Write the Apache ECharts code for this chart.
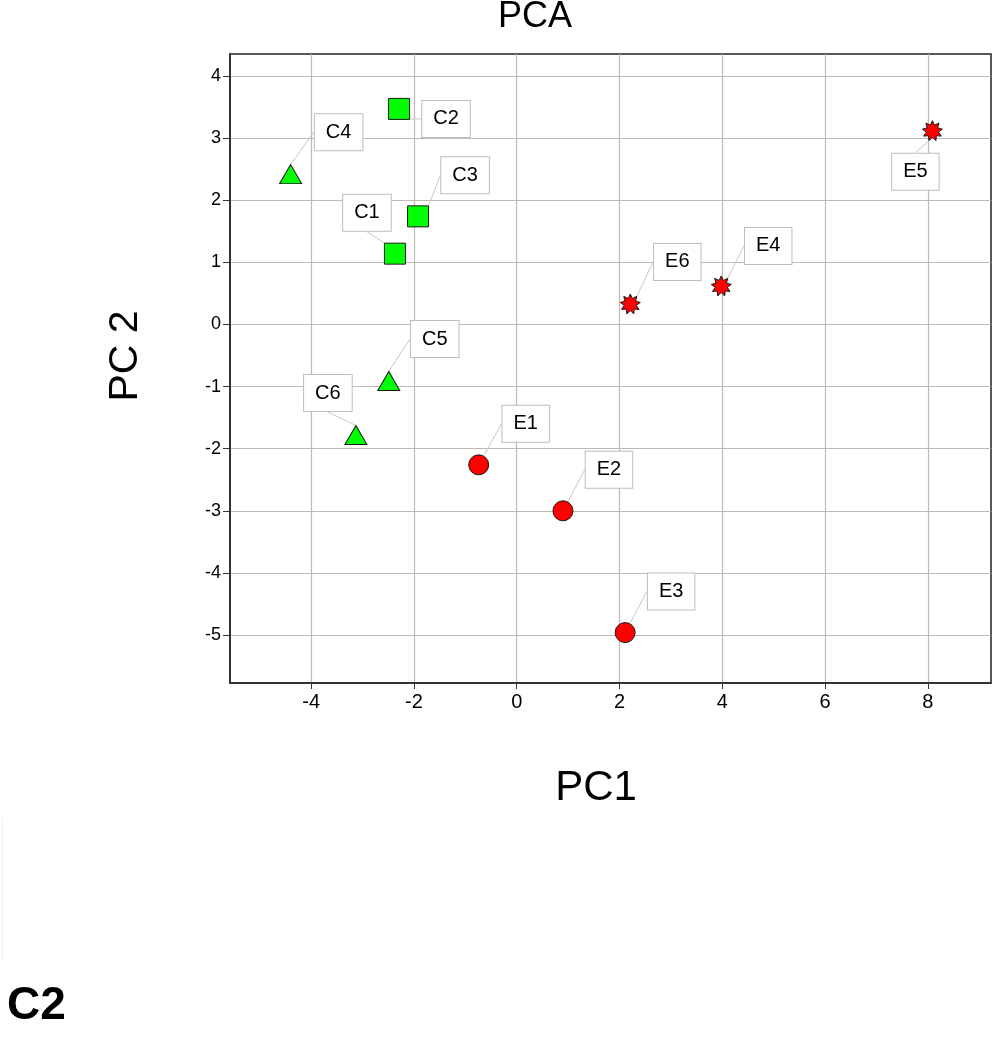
<!DOCTYPE html>
<html><head><meta charset="utf-8">
<script src="https://cdn.jsdelivr.net/npm/echarts@6/dist/echarts.min.js"></script>
<style>html,body{margin:0;padding:0;background:#fff}#c{width:993px;height:1050px}</style>
</head><body><div id="c"></div>
<script>
// ---- data ----
const sampleNames = ['C1','C2','C3','C4','C5','C6','E1','E2','E3','E4','E5','E6'];
const pc1Values  = [-2.37,-2.29,-1.92,-4.40,-2.49,-3.13,-0.74,0.90,2.11,3.98,8.09,2.21];
const pc2Values  = [ 1.14, 3.47, 1.74, 2.42,-0.91,-1.78,-2.26,-3.00,-4.96,0.62,3.12,0.33];
const groupSquares   = ['C1','C2','C3'];
const groupTriangles = ['C4','C5','C6'];
const groupCircles   = ['E1','E2','E3'];
const groupStars     = ['E4','E5','E6'];
const xTickValues = [-4,-2,0,2,4,6,8];
const yTickValues = [-5,-4,-3,-2,-1,0,1,2,3,4];

// ---- label placement (layout only) ----
const labelShift = {
  C1:[-28,-41], C2:[47,10], C3:[47,-41], C4:[48,-42], C5:[46,-42], C6:[-28,-42],
  E1:[47,-41], E2:[46,-41], E3:[46,-41], E4:[47,-40], E5:[-17,41], E6:[47,-42]
};

function starPath(n, rOut, rIn){
  let d = '';
  for (let i = 0; i < 2*n; i++){
    const r = i%2===0 ? rOut : rIn;
    const a = Math.PI*i/n - Math.PI/2;
    d += (i===0?'M':'L') + (50 + r*Math.cos(a)).toFixed(2) + ' ' + (50 + r*Math.sin(a)).toFixed(2) + ' ';
  }
  return 'path://' + d + 'Z';
}

function pts(group){
  return group.map(n => { const i = sampleNames.indexOf(n); return {name:n, value:[pc1Values[i], pc2Values[i]]}; });
}

const FONT = '"Liberation Sans", Arial, sans-serif';
const labelCfg = {
  show:true, position:'inside', formatter:'{b}', color:'#000', fontFamily:FONT, fontSize:20,
  lineHeight:20, backgroundColor:'#fff', borderColor:'#bdbdbd', borderWidth:1, padding:[8,11,8,11]
};
const labelLineCfg = {show:true, lineStyle:{color:'#c8c8c8', width:1}};

function mkSeries(group, symbol, size, color){
  const data = pts(group);
  return {
    type:'scatter', data, symbol, symbolSize:size,
    itemStyle:{color, borderColor:'#1a1a1a', borderWidth:1, opacity:1},
    label: labelCfg, labelLine: labelLineCfg,
    labelLayout: p => { const s = labelShift[data[p.dataIndex].name]; return {dx:s[0], dy:s[1]}; },
    emphasis:{disabled:true}, z:3
  };
}

const chart = echarts.init(document.getElementById('c'), null, {renderer:'canvas'});
chart.setOption({
  animation:false,
  backgroundColor:'#fff',
  grid:{left:230, right:2, top:54, bottom:367, show:true, borderColor:'#222', borderWidth:1.5, backgroundColor:'transparent'},
  xAxis:{
    type:'value', min:-5.58, max:9.23,
    axisLine:{show:true, onZero:false, lineStyle:{color:'#333', width:2}},
    axisTick:{show:true, customValues:xTickValues, length:6, lineStyle:{color:'#333'}},
    axisLabel:{customValues:xTickValues, color:'#000', fontFamily:FONT, fontSize:20, margin:9},
    splitLine:{show:true, lineStyle:{color:'#bfbbb3', width:1.2}}
  },
  yAxis:{
    type:'value', min:-5.772, max:4.354,
    axisLine:{show:true, onZero:false, lineStyle:{color:'#333', width:2}},
    axisTick:{show:true, customValues:yTickValues, length:7, lineStyle:{color:'#333'}},
    axisLabel:{customValues:yTickValues, color:'#000', fontFamily:FONT, fontSize:18, margin:9},
    splitLine:{show:true, lineStyle:{color:'#bfbbb3', width:1.2}}
  },
  series:[
    mkSeries(groupSquares, 'rect', 21, '#00ff00'),
    mkSeries(groupTriangles, 'triangle', [22,19], '#00ff00'),
    mkSeries(groupCircles, 'circle', 20, '#ff0000'),
    mkSeries(groupStars, starPath(9, 50, 30), 20, '#ff0000')
  ],
  graphic:[
    {type:'text', x:535, y:17, style:{text:'PCA', fontFamily:FONT, fontSize:36, fill:'#000', align:'center', verticalAlign:'middle'}},
    {type:'text', x:596, y:788, style:{text:'PC1', fontFamily:FONT, fontSize:42, fill:'#000', align:'center', verticalAlign:'middle'}},
    {type:'text', x:126, y:356, rotation:Math.PI/2, style:{text:'PC 2', fontFamily:FONT, fontSize:41, fill:'#000', align:'center', verticalAlign:'middle'}},
    {type:'text', x:7, y:1006, style:{text:'C2', fontFamily:FONT, fontSize:46, fontWeight:'bold', fill:'#000', align:'left', verticalAlign:'middle'}},
    {type:'rect', shape:{x:2, y:818, width:1, height:142}, style:{fill:'#f1f1f1'}}
  ]
});
</script></body></html>
